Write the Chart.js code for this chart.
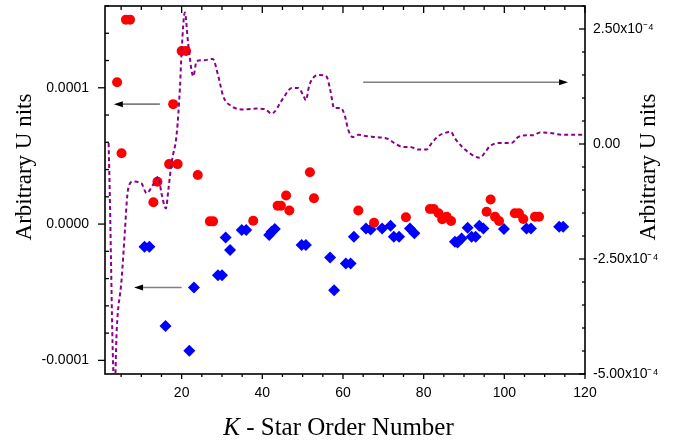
<!DOCTYPE html>
<html><head><meta charset="utf-8">
<script src="https://cdn.jsdelivr.net/npm/chart.js@4.4.1/dist/chart.umd.min.js"></script>
<style>html,body{margin:0;padding:0;background:#fff}#wrap{width:689px;height:445px;position:relative}</style>
</head><body><div id="wrap"><canvas id="c" width="689" height="445"></canvas></div>
<script>
// ---- data ----
const redX = [4, 5.1, 6.2, 7.2, 13, 14, 16.9, 17.9, 19, 20, 21.1, 24, 27, 27.8, 37.75, 43.8, 44.6, 45.9, 46.7, 51.8, 52.8, 63.8, 67.7, 75.6, 81.55, 82.5, 83.7, 84.6, 85.7, 86.8, 95.6, 96.6, 97.7, 98.7, 102.6, 103.6, 104.7, 107.6, 108.6];
const redY = [1.04e-4, 0.52e-4, 1.50e-4, 1.50e-4, 0.16e-4, 0.31e-4, 0.44e-4, 0.88e-4, 0.44e-4, 1.27e-4, 1.27e-4, 0.36e-4, 0.02e-4, 0.02e-4, 0.025e-4, 0.135e-4, 0.135e-4, 0.21e-4, 0.10e-4, 0.38e-4, 0.19e-4, 0.10e-4, 0.01e-4, 0.05e-4, 0.11e-4, 0.11e-4, 0.08e-4, 0.035e-4, 0.054e-4, 0.022e-4, 0.09e-4, 0.18e-4, 0.054e-4, 0.022e-4, 0.08e-4, 0.08e-4, 0.037e-4, 0.054e-4, 0.054e-4];

const blueX = [10.8, 12.0, 16.0, 21.9, 23.05, 29.0, 30.0, 30.9, 32.0, 34.9, 36.0, 41.7, 42.3, 43.1, 49.75, 50.8, 56.8, 57.8, 60.7, 61.9, 62.7, 65.7, 66.85, 69.7, 71.8, 72.6, 73.9, 76.6, 77.7, 87.75, 88.4, 89.4, 90.9, 91.9, 92.9, 93.8, 94.8, 99.9, 105.5, 106.6, 113.6, 114.6];
const blueY = [-0.167e-4, -0.167e-4, -0.748e-4, -0.93e-4, -0.465e-4, -0.375e-4, -0.375e-4, -0.098e-4, -0.19e-4, -0.044e-4, -0.044e-4, -0.08e-4, -0.057e-4, -0.037e-4, -0.154e-4, -0.154e-4, -0.245e-4, -0.485e-4, -0.29e-4, -0.29e-4, -0.093e-4, -0.032e-4, -0.039e-4, -0.032e-4, -0.012e-4, -0.093e-4, -0.093e-4, -0.032e-4, -0.068e-4, -0.13e-4, -0.135e-4, -0.105e-4, -0.027e-4, -0.093e-4, -0.093e-4, -0.012e-4, -0.032e-4, -0.037e-4, -0.032e-4, -0.032e-4, -0.02e-4, -0.02e-4];

const lineX = [1.9, 2.2, 2.5, 2.8, 3.05, 3.3, 3.9, 5.1, 5.95, 6.5, 7.0, 8.0, 10.0, 11.3, 12.9, 14.2, 15.0, 16.1, 16.7, 17.5, 18.8, 19.6, 20.0, 20.8, 21.6, 22.9, 23.7, 25.4, 27.7, 29.1, 30.3, 32.4, 35.3, 38.6, 40.6, 42.3, 45.2, 47.3, 48.9, 50.1, 50.8, 51.6, 52.6, 54.3, 55.9, 56.9, 57.8, 59.5, 60.5, 61.3, 62.4, 63.8, 65.9, 68.3, 71.2, 72.9, 74.9, 76.6, 78.7, 80.7, 82.0, 83.6, 85.3, 86.7, 87.7, 89.4, 91.9, 93.9, 95.4, 96.4, 98.5, 101.8, 103.4, 105.5, 107.2, 108.8, 111.3, 114.6, 117.9, 120];
const lineY = [0.02e-4, -1.14e-4, -2.59e-4, -4.05e-4, -4.92e-4, -5.6e-4, -4.05e-4, -2.96e-4, -1.87e-4, -1.14e-4, -0.89e-4, -0.815e-4, -0.85e-4, -1.07e-4, -0.89e-4, -0.71e-4, -1.07e-4, -1.4e-4, -1.0e-4, -0.41e-4, 0.24e-4, 1.26e-4, 2.02e-4, 2.86e-4, 2.2e-4, 1.47e-4, 1.8e-4, 1.82e-4, 1.85e-4, 1.47e-4, 1.04e-4, 0.82e-4, 0.75e-4, 0.77e-4, 0.76e-4, 0.66e-4, 1.0e-4, 1.22e-4, 1.22e-4, 1.07e-4, 0.95e-4, 1.26e-4, 1.44e-4, 1.5e-4, 1.47e-4, 1.15e-4, 0.78e-4, 0.78e-4, 0.6e-4, 0.31e-4, 0.15e-4, 0.2e-4, 0.17e-4, 0.15e-4, 0.11e-4, 0.01e-4, -0.065e-4, -0.065e-4, -0.12e-4, -0.12e-4, 0.02e-4, 0.17e-4, 0.24e-4, 0.27e-4, 0.13e-4, -0.05e-4, -0.23e-4, -0.3e-4, -0.16e-4, -0.05e-4, 0.02e-4, 0.02e-4, 0.15e-4, 0.19e-4, 0.19e-4, 0.25e-4, 0.24e-4, 0.2e-4, 0.2e-4, 0.2e-4];

// tick values and labels
const xTicks = [20, 40, 60, 80, 100, 120];
const xTickLabels = ['20', '40', '60', '80', '100', '120'];
const yLeftTicks = [-0.0001, 0, 0.0001];
const yLeftTickLabels = ['-0.0001', '0.0000', '0.0001'];
const yRightTicks = [-5e-4, -2.5e-4, 0, 2.5e-4];
const yRightTickLabels = ['-5.00x10\u207B\u2074', '-2.50x10\u207B\u2074', '0.00', '2.50x10\u207B\u2074'];

// texts
const yTitle = 'Arbitrary U nits';
const xTitleItalic = 'K';
const xTitleRest = ' - Star Order Number';

// annotation arrows (data coordinates: x, y on given axis)
const arrowAxis = ['y', 'y', 'y2'];
const arrowFromX = [14.6, 20.0, 65.0];
const arrowToX = [3.2, 8.2, 115.8];
const arrowYv = [0.88e-4, -0.465e-4, 1.343e-4];

// ---- chart ----
const toPts = (xs, ys) => xs.map((x, i) => ({x: x, y: ys[i]}));

const decorPlugin = {
  id: 'decor',
  afterDatasetsDraw(chart) {
    const {ctx, scales} = chart;
    ctx.save();
    for (let i = 0; i < arrowFromX.length; i++) {
      const ys = scales[arrowAxis[i]];
      const y = ys.getPixelForValue(arrowYv[i]);
      const x1 = scales.x.getPixelForValue(arrowFromX[i]);
      const x2 = scales.x.getPixelForValue(arrowToX[i]);
      const dir = x2 > x1 ? 1 : -1;
      const headLen = 9, headHalf = 3;
      ctx.strokeStyle = '#7f7f7f';
      ctx.lineWidth = 1.6;
      ctx.beginPath();
      ctx.moveTo(x1, y);
      ctx.lineTo(x2 - dir * headLen, y);
      ctx.stroke();
      ctx.fillStyle = '#000';
      ctx.beginPath();
      ctx.moveTo(x2, y);
      ctx.lineTo(x2 - dir * headLen, y - headHalf);
      ctx.lineTo(x2 - dir * headLen, y + headHalf);
      ctx.closePath();
      ctx.fill();
    }
    ctx.restore();
  },
  afterDraw(chart) {
    const {ctx, chartArea: a, scales} = chart;
    ctx.save();
    ctx.strokeStyle = '#000';
    ctx.lineWidth = 1.6;
    ctx.strokeRect(a.left, a.top, a.right - a.left, a.bottom - a.top);
    const seg = (x1, y1, x2, y2) => { ctx.beginPath(); ctx.moveTo(x1, y1); ctx.lineTo(x2, y2); ctx.stroke(); };
    ctx.lineWidth = 1.3;
    for (let k = 1; k <= 24; k++) {
      const v = k * 5;
      const p = scales.x.getPixelForValue(v);
      const major = v % 20 === 0;
      seg(p, a.bottom, p, a.bottom + (major ? 5 : 3));
      seg(p, a.top, p, a.top + (major ? 7 : 4));
    }
    for (let k = -5; k <= 8; k++) {
      const p = scales.y.getPixelForValue(k * 2e-5);
      const major = k % 5 === 0;
      if (major) seg(a.left - 7, p, a.left, p);
      else seg(a.left, p, a.left + 4, p);
    }
    for (let k = -10; k <= 6; k++) {
      const p = scales.y2.getPixelForValue(k * 5e-5);
      const major = k % 5 === 0;
      seg(a.right, p, a.right - (major ? 6 : 3), p);
    }
    ctx.fillStyle = '#000';
    ctx.font = '23px "Liberation Serif", "Times New Roman", serif';
    ctx.textAlign = 'center';
    ctx.textBaseline = 'alphabetic';
    ctx.save(); ctx.translate(31, 167); ctx.rotate(-Math.PI / 2); ctx.fillText(yTitle, 0, 0); ctx.restore();
    ctx.save(); ctx.translate(655, 167); ctx.rotate(-Math.PI / 2); ctx.fillText(yTitle, 0, 0); ctx.restore();
    const fontReg = '25px "Liberation Serif", "Times New Roman", serif';
    const fontIt = 'italic 25px "Liberation Serif", "Times New Roman", serif';
    ctx.font = fontIt; const wK = ctx.measureText(xTitleItalic).width;
    ctx.font = fontReg; const wR = ctx.measureText(xTitleRest).width;
    const cx = 338.5, by = 435;
    let x0 = cx - (wK + wR) / 2;
    ctx.textAlign = 'left';
    ctx.font = fontIt; ctx.fillText(xTitleItalic, x0, by);
    ctx.font = fontReg; ctx.fillText(xTitleRest, x0 + wK, by);
    ctx.restore();
  }
};

const tickFont = {family: '"Liberation Sans", Arial, sans-serif', size: 14};
const noPad = s => { s.paddingTop = 0; s.paddingBottom = 0; s.paddingLeft = 0; s.paddingRight = 0; };

new Chart(document.getElementById('c'), {
  type: 'scatter',
  data: {
    datasets: [
      {
        label: 'curve', data: toPts(lineX, lineY), yAxisID: 'y2', showLine: true,
        borderColor: '#8b008b', borderWidth: 2, borderDash: [4, 3], pointRadius: 0,
        tension: 0.4, cubicInterpolationMode: 'monotone', fill: false
      },
      {
        label: 'red', data: toPts(redX, redY), yAxisID: 'y', pointStyle: 'circle',
        pointRadius: 5, backgroundColor: '#ff0000', borderWidth: 0, pointBorderWidth: 0
      },
      {
        label: 'blue', data: toPts(blueX, blueY), yAxisID: 'y', pointStyle: 'rectRot',
        pointRadius: 6, backgroundColor: '#0000ff', borderWidth: 0, pointBorderWidth: 0
      }
    ]
  },
  options: {
    responsive: false, animation: false, devicePixelRatio: 1,
    layout: {padding: {top: 6, left: 0, right: 0, bottom: 0}},
    plugins: {legend: {display: false}, tooltip: {enabled: false}},
    scales: {
      x: {
        type: 'linear', position: 'bottom', min: 1, max: 120, bounds: 'data',
        grid: {display: false, drawTicks: false}, border: {display: false},
        afterBuildTicks: s => { s.ticks = xTicks.map(v => ({value: v})); },
        afterFit: s => { s.height = 71; noPad(s); },
        ticks: {autoSkip: false, maxRotation: 0, padding: 11, color: '#000', font: tickFont,
          callback: (v, i) => xTickLabels[i]}
      },
      y: {
        type: 'linear', position: 'left', min: -1.1e-4, max: 1.6e-4, bounds: 'data',
        grid: {display: false, drawTicks: false}, border: {display: false},
        afterBuildTicks: s => { s.ticks = yLeftTicks.map(v => ({value: v})); },
        afterFit: s => { s.width = 105; noPad(s); },
        ticks: {autoSkip: false, padding: 16, color: '#000', font: tickFont,
          callback: (v, i) => yLeftTickLabels[i]}
      },
      y2: {
        type: 'linear', position: 'right', min: -5e-4, max: 3e-4, bounds: 'data',
        grid: {display: false, drawTicks: false}, border: {display: false},
        afterBuildTicks: s => { s.ticks = yRightTicks.map(v => ({value: v})); },
        afterFit: s => { s.width = 104; noPad(s); },
        ticks: {autoSkip: false, padding: 8, color: '#000', font: tickFont,
          callback: (v, i) => yRightTickLabels[i]}
      }
    }
  },
  plugins: [decorPlugin]
});
</script>
</body></html>
